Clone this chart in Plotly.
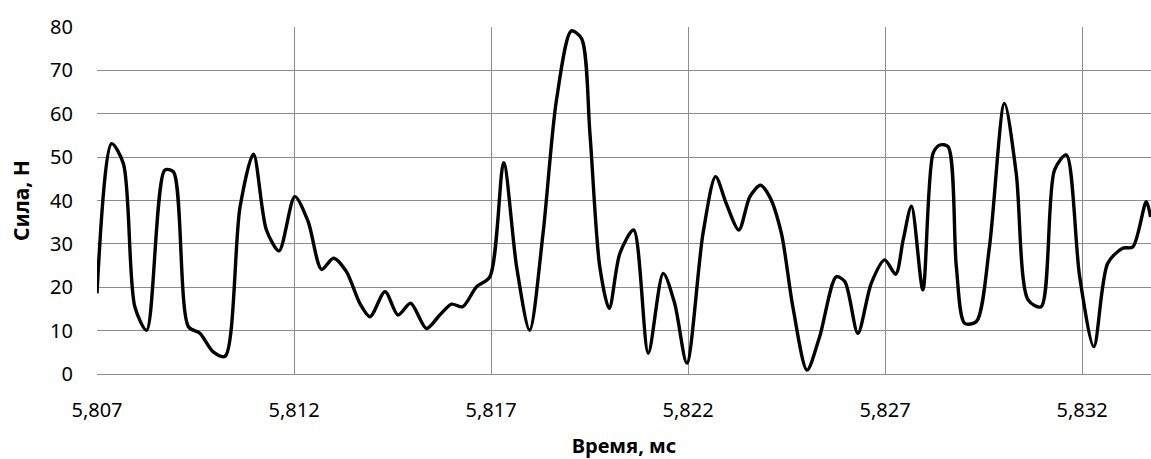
import plotly.graph_objects as go

time_ms = [5.80700, 5.80737, 5.80767, 5.80796, 5.80826, 5.80872, 5.80894, 5.80932,
           5.80961, 5.80995, 5.81025, 5.81063, 5.81097, 5.81130, 5.81162, 5.81202,
           5.81236, 5.81270, 5.81300, 5.81333, 5.81367, 5.81393, 5.81431, 5.81464,
           5.81496, 5.81536, 5.81570, 5.81600, 5.81628, 5.81663, 5.81697, 5.81732,
           5.81765, 5.81798, 5.81832, 5.81866, 5.81904, 5.81930, 5.81951, 5.81976,
           5.82000, 5.82027, 5.82062, 5.82099, 5.82137, 5.82166, 5.82197, 5.82238,
           5.82270, 5.82297, 5.82329, 5.82357, 5.82384, 5.82407, 5.82437, 5.82466,
           5.82502, 5.82534, 5.82576, 5.82598, 5.82631, 5.82665, 5.82699, 5.82727,
           5.82746, 5.82767, 5.82796, 5.82822, 5.82839, 5.82860, 5.82881, 5.82902,
           5.82932, 5.82965, 5.83003, 5.83033, 5.83063, 5.83096, 5.83130, 5.83160,
           5.83194, 5.83230, 5.83265, 5.83303, 5.83329, 5.83363, 5.83374]
force_n = [18.6, 53.1, 48.5, 15.5, 10.1, 47.0, 46.6, 10.9,
           9.4, 5.1, 4.1, 38.5, 50.7, 33.2, 28.4, 40.9,
           35.1, 24.1, 26.7, 23.6, 16.3, 13.2, 19.0, 13.6,
           16.3, 10.5, 13.6, 16.1, 15.5, 20.1, 22.4, 48.7,
           24.7, 10.1, 32.4, 63.1, 79.1, 77.3, 55.5, 24.7,
           15.1, 27.8, 33.2, 4.8, 23.2, 16.3, 2.5, 32.4,
           45.5, 39.3, 33.2, 40.9, 43.5, 40.9, 32.4, 15.5,
           0.9, 8.6, 22.4, 21.3, 9.4, 20.9, 26.3, 23.0,
           30.9, 38.7, 19.4, 50.9, 52.8, 52.4, 24.7, 11.7,
           12.1, 29.3, 62.4, 46.2, 17.1, 15.5, 47.0, 50.5,
           22.4, 6.3, 25.5, 29.0, 29.3, 39.7, 36.2]

x_ticks = [5.807, 5.812, 5.817, 5.822, 5.827, 5.832]
y_ticks = [0, 10, 20, 30, 40, 50, 60, 70, 80]

FONT = "Noto Sans"
GRID = "#8c8c8c"

fig = go.Figure()
fig.add_trace(go.Scatter(
    x=time_ms, y=force_n, mode="lines",
    line=dict(color="black", width=3.4, shape="spline", smoothing=0.8),
    showlegend=False, hoverinfo="skip",
))

fig.update_layout(
    width=1151, height=459,
    margin=dict(l=97, r=0, t=27, b=85, autoexpand=False),
    paper_bgcolor="white", plot_bgcolor="white",
    separators=", ",
    font=dict(family=FONT, size=20, color="black"),
)
fig.update_xaxes(
    range=[5.807, 5.83375], tickvals=x_ticks, tickformat=".3f",
    showgrid=True, gridcolor=GRID, gridwidth=1.4,
    zeroline=False, showline=True, linecolor=GRID, linewidth=1.4,
    ticks="", ticklabelstandoff=18,
    title=dict(text="<b>Время, мс</b>", font=dict(family=FONT, size=20), standoff=18),
)
fig.update_yaxes(
    range=[0, 80], tickvals=y_ticks,
    showgrid=True, gridcolor=GRID, gridwidth=1.4,
    zeroline=False, showline=False,
    ticks="", ticklabelstandoff=23,
    title=dict(text="<b>Сила, Н</b>", font=dict(family=FONT, size=21), standoff=14),
)

fig.write_html("out.html", config={"displayModeBar": False},
               post_script="document.body.style.margin='0';")
